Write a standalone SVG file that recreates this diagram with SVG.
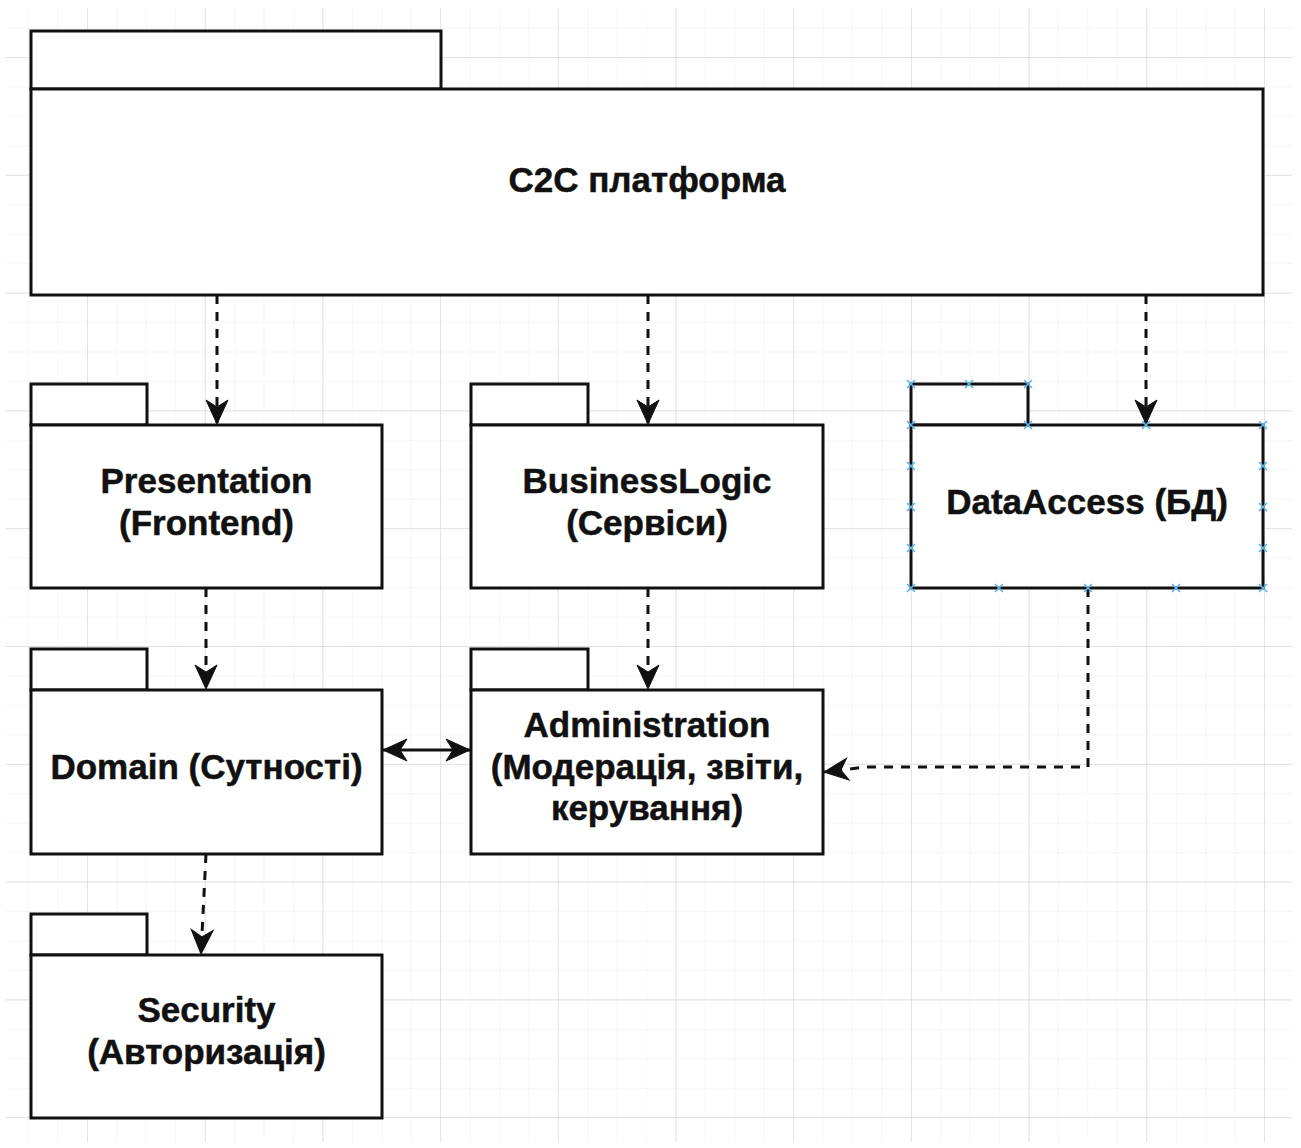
<svg xmlns="http://www.w3.org/2000/svg" width="1301" height="1148" viewBox="0 0 1301 1148">
  <defs>
    <pattern id="minor" patternUnits="userSpaceOnUse" x="87" y="57" width="29.425" height="29.45">
      <path d="M0 0 H29.425 M0 0 V29.45" fill="none" stroke="#f0f0f0" stroke-width="1"/>
    </pattern>
    <pattern id="major" patternUnits="userSpaceOnUse" x="87" y="57" width="117.7" height="117.8">
      <path d="M0 0 H117.7 M0 0 V117.8" fill="none" stroke="#dadada" stroke-width="1.4"/>
    </pattern>
    <marker id="arrow" viewBox="-26 -13 28 26" refX="0" refY="0" markerWidth="28" markerHeight="26" markerUnits="userSpaceOnUse" orient="auto-start-reverse">
      <path d="M-24 -11 L0 0 L-24 11 L-17 0 Z" fill="#111" stroke="#111" stroke-width="1" stroke-linejoin="miter"/>
    </marker>
    <g id="handle">
      <path d="M-4 -4 L4 4 M-4 4 L4 -4" stroke="#5db3ea" stroke-width="1.6" fill="none"/>
    </g>
  </defs>
  <style>
    .pkg rect { fill: #ffffff; stroke: #111111; stroke-width: 3; }
    .label { font-family: "Liberation Sans", Arial, Helvetica, sans-serif; font-weight: bold; font-size: 35px; fill: #111111; stroke: #111111; stroke-width: 0.5; text-anchor: middle; }
    .dep { fill: none; stroke: #111111; stroke-width: 3; stroke-dasharray: 9 8; }
    .assoc { fill: none; stroke: #111111; stroke-width: 3; }
  </style>

  <!-- canvas with drawing grid -->
  <rect x="0" y="0" width="1301" height="1148" fill="#ffffff"/>
  <rect x="5" y="8" width="1287" height="1134" fill="url(#minor)"/>
  <rect x="5" y="8" width="1287" height="1134" fill="url(#major)"/>

  <!-- packages -->
  <g id="platform" class="pkg">
    <rect x="31" y="31" width="410" height="58"/>
    <rect x="31" y="89" width="1232" height="206"/>
    <text class="label" x="647" y="192">C2C платформа</text>
  </g>

  <g id="presentation" class="pkg">
    <rect x="31" y="384" width="116" height="41"/>
    <rect x="31" y="425" width="351" height="163"/>
    <text class="label" x="206.5" y="493">Presentation</text>
    <text class="label" x="206.5" y="535">(Frontend)</text>
  </g>

  <g id="business-logic" class="pkg">
    <rect x="471" y="384" width="117" height="41"/>
    <rect x="471" y="425" width="352" height="163"/>
    <text class="label" x="647" y="493">BusinessLogic</text>
    <text class="label" x="647" y="535">(Сервіси)</text>
  </g>

  <g id="data-access" class="pkg">
    <rect x="911" y="384" width="117" height="41"/>
    <rect x="911" y="425" width="352" height="163"/>
    <text class="label" x="1087" y="514">DataAccess (БД)</text>
  </g>

  <g id="domain" class="pkg">
    <rect x="31" y="649" width="116" height="41"/>
    <rect x="31" y="690" width="351" height="164"/>
    <text class="label" x="206.5" y="779">Domain (Сутності)</text>
  </g>

  <g id="administration" class="pkg">
    <rect x="471" y="649" width="117" height="41"/>
    <rect x="471" y="690" width="352" height="164"/>
    <text class="label" x="647" y="737">Administration</text>
    <text class="label" x="647" y="779">(Модерація, звіти,</text>
    <text class="label" x="647" y="820">керування)</text>
  </g>

  <g id="security" class="pkg">
    <rect x="31" y="914" width="116" height="41"/>
    <rect x="31" y="955" width="351" height="163"/>
    <text class="label" x="206.5" y="1022">Security</text>
    <text class="label" x="206.5" y="1064">(Авторизація)</text>
  </g>

  <!-- connectors -->
  <g id="connectors">
    <path class="dep" d="M217 295 V424" marker-end="url(#arrow)"/>
    <path class="dep" d="M648 295 V424" marker-end="url(#arrow)"/>
    <path class="dep" d="M1146 295 V424" marker-end="url(#arrow)"/>
    <path class="dep" d="M206 588 V689" marker-end="url(#arrow)"/>
    <path class="dep" d="M648 588 V689" marker-end="url(#arrow)"/>
    <path class="dep" d="M206 854 L201 954" marker-end="url(#arrow)"/>
    <path class="dep" d="M1088 588 V767 H866 L824 772" marker-end="url(#arrow)"/>
    <path class="assoc" d="M383 750 H470" marker-start="url(#arrow)" marker-end="url(#arrow)"/>
  </g>

  <!-- selection handles on the active package -->
  <g id="selection-handles">
    <use href="#handle" x="911" y="384"/>
    <use href="#handle" x="969" y="384"/>
    <use href="#handle" x="1028" y="384"/>
    <use href="#handle" x="1028" y="425"/>
    <use href="#handle" x="911" y="425"/>
    <use href="#handle" x="1146" y="425"/>
    <use href="#handle" x="1263" y="425"/>
    <use href="#handle" x="911" y="466"/>
    <use href="#handle" x="911" y="507"/>
    <use href="#handle" x="911" y="548"/>
    <use href="#handle" x="1263" y="466"/>
    <use href="#handle" x="1263" y="507"/>
    <use href="#handle" x="1263" y="548"/>
    <use href="#handle" x="911" y="588"/>
    <use href="#handle" x="999" y="588"/>
    <use href="#handle" x="1088" y="588"/>
    <use href="#handle" x="1176" y="588"/>
    <use href="#handle" x="1263" y="588"/>
  </g>
</svg>
